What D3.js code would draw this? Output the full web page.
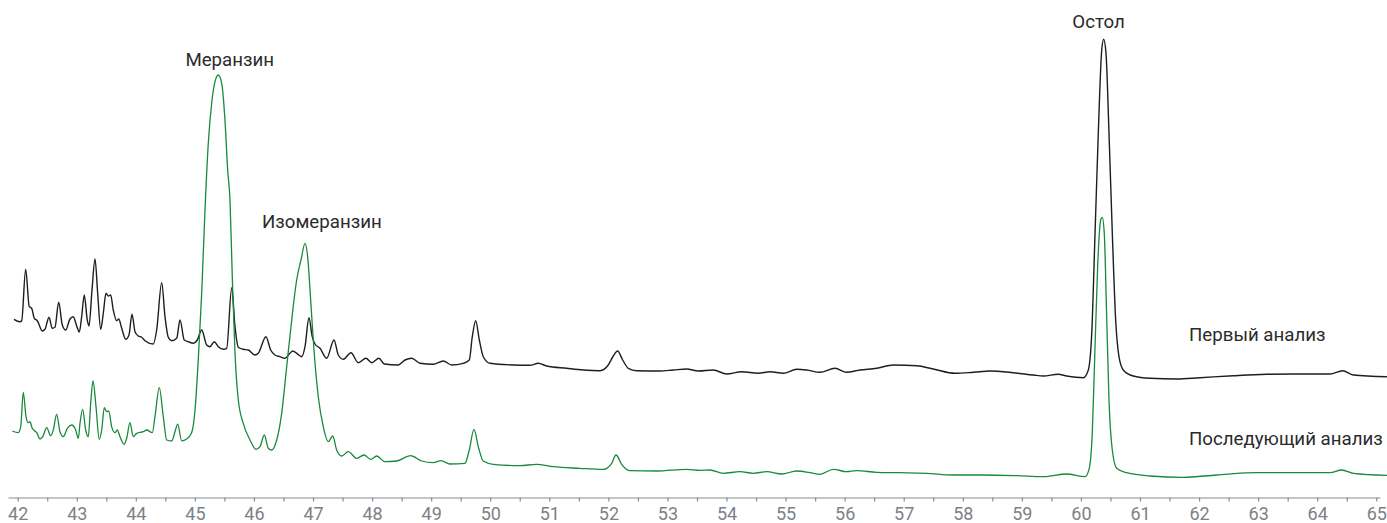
<!DOCTYPE html>
<html>
<head>
<meta charset="utf-8">
<script src="https://cdn.jsdelivr.net/npm/d3@7"></script>
<style>
  html, body { margin: 0; padding: 0; background: #fff; }
  svg { display: block; }
  .axis text { font-family: Roboto, "Noto Sans", sans-serif; font-size: 18px; fill: #7d8186; }
  .axis path, .axis line { stroke: #8a8d91; stroke-width: 1.2; }
  .lbl { font-family: Roboto, "Noto Sans", sans-serif; font-size: 18.7px; fill: #2b2b2b; }
</style>
</head>
<body>
<svg id="chart" width="1387" height="523"></svg>
<script>
// Retention time (min) and detector signal (a.u.) — first analysis (black trace, offset)
const firstTime = [41.937,42.039,42.068,42.135,42.196,42.237,42.281,42.332,42.416,42.462,42.530,42.586,42.631,42.694,42.755,42.813,42.885,42.941,42.999,43.043,43.083,43.127,43.178,43.207,43.258,43.309,43.354,43.405,43.449,43.495,43.534,43.574,43.618,43.676,43.710,43.761,43.828,43.884,43.935,43.986,44.042,44.099,44.155,44.296,44.353,44.438,44.494,44.550,44.607,44.692,44.748,44.820,44.888,44.973,45.040,45.115,45.200,45.256,45.328,45.396,45.481,45.538,45.623,45.679,45.735,45.819,45.904,46.017,46.073,46.203,46.283,46.356,46.440,46.525,46.610,46.655,46.723,46.808,46.864,46.931,46.987,47.033,47.118,47.231,47.355,47.427,47.512,47.642,47.766,47.896,47.993,48.116,48.206,48.443,48.557,48.670,48.811,49.036,49.205,49.347,49.544,49.645,49.696,49.754,49.815,49.882,49.996,50.390,50.673,50.813,50.955,51.294,51.575,51.858,51.998,52.083,52.157,52.242,52.337,52.479,52.874,53.099,53.326,53.522,53.776,54.003,54.257,54.538,54.736,54.961,55.188,55.357,55.582,55.836,56.034,56.260,56.542,56.823,57.219,57.500,57.868,58.178,58.460,58.855,59.193,59.363,59.616,59.759,60.041,60.125,60.183,60.239,60.294,60.352,60.385,60.424,60.475,60.531,60.588,60.644,60.717,60.886,61.168,61.620,62.015,62.579,63.144,63.764,64.216,64.431,64.611,65.181];
const firstSignal = [178.4,176.0,177.0,228.4,191.0,189.4,179.4,177.0,166.7,168.4,180.4,169.4,170.4,195.4,172.7,167.7,178.7,181.0,171.7,165.7,181.0,202.7,177.7,171.7,207.7,238.7,204.4,168.4,184.4,204.4,201.7,202.7,187.7,177.0,178.7,169.4,158.4,162.7,183.4,166.0,161.7,160.4,157.0,153.7,167.7,215.0,181.0,160.4,157.0,159.4,177.7,157.7,156.0,154.4,157.7,167.7,152.7,151.0,156.0,151.0,148.4,149.4,210.0,171.0,150.4,148.4,147.7,142.7,144.4,161.0,147.7,142.7,141.0,139.4,144.4,146.7,144.4,141.0,151.0,180.0,161.0,153.7,149.4,139.4,157.7,142.7,138.4,145.0,135.0,139.4,135.0,139.4,133.7,132.7,137.7,139.4,134.4,133.4,136.7,132.7,134.4,137.7,161.0,177.0,157.7,141.0,134.4,132.7,132.4,134.4,131.7,129.4,127.7,127.0,132.7,141.7,146.7,137.7,129.4,127.0,126.7,127.7,128.7,126.7,127.7,123.7,126.0,124.4,126.0,124.4,128.4,127.7,125.4,129.4,125.4,127.7,129.4,132.7,132.0,128.7,124.4,125.4,126.7,125.0,122.7,121.7,123.4,121.7,120.0,127.7,164.4,264.7,364.7,447.7,458.4,444.7,364.7,264.7,177.7,141.0,127.7,121.7,119.4,118.7,120.0,122.0,123.4,123.7,123.7,127.0,122.7,121.0];

// Subsequent analysis (green trace)
const secondTime = [41.909,42.010,42.051,42.095,42.141,42.179,42.208,42.247,42.322,42.378,42.423,42.491,42.559,42.603,42.660,42.716,42.772,42.840,42.914,42.982,43.026,43.055,43.100,43.151,43.195,43.236,43.275,43.326,43.381,43.422,43.466,43.507,43.541,43.591,43.647,43.686,43.732,43.800,43.845,43.901,43.957,44.015,44.126,44.184,44.279,44.324,44.397,44.465,44.522,44.607,44.663,44.709,44.776,44.861,44.946,45.002,45.057,45.115,45.171,45.227,45.284,45.340,45.396,45.454,45.509,45.555,45.594,45.633,45.679,45.735,45.819,45.933,46.034,46.102,46.175,46.242,46.300,46.385,46.469,46.554,46.639,46.723,46.796,46.864,46.909,46.960,47.016,47.089,47.173,47.258,47.333,47.400,47.485,47.597,47.739,47.862,47.976,48.078,48.218,48.416,48.653,48.839,49.036,49.166,49.318,49.572,49.645,49.725,49.798,49.882,50.051,50.503,50.786,51.067,51.519,51.914,52.056,52.129,52.225,52.366,52.818,53.326,53.551,53.720,53.945,54.228,54.453,54.680,54.934,55.188,55.413,55.582,55.808,56.034,56.203,56.542,56.937,57.389,57.839,58.347,58.912,59.363,59.759,60.069,60.141,60.192,60.237,60.283,60.334,60.361,60.395,60.436,60.475,60.531,60.605,60.774,61.168,61.732,62.297,62.974,63.764,64.216,64.414,64.611,65.181];
const secondSignal = [66.7,65.0,71.0,105.4,81.0,75.0,76.0,69.4,65.0,58.7,61.0,70.0,62.0,67.7,83.4,66.0,61.0,69.4,72.7,67.7,59.4,74.4,88.4,67.7,61.0,94.4,116.7,91.0,58.4,67.7,90.0,86.0,86.7,71.0,65.0,67.7,61.0,53.4,59.4,75.0,61.0,64.4,66.0,67.7,65.0,81.0,110.0,81.0,57.7,56.7,66.0,73.5,56.9,58.7,65.2,87.7,137.7,204.4,287.7,354.4,394.4,416.0,422.7,414.4,377.7,327.7,297.7,221.0,144.4,97.7,74.4,57.7,48.4,51.0,62.7,49.4,47.7,57.7,84.4,131.0,177.7,217.7,237.7,254.4,241.0,197.7,147.7,101.0,71.0,56.0,61.7,47.7,41.7,46.0,39.4,42.7,38.4,41.7,36.0,36.7,42.0,36.7,35.0,37.0,33.7,34.4,47.7,68.4,51.0,36.7,33.4,32.0,33.4,31.0,29.4,28.4,34.4,42.7,33.4,27.0,26.7,28.4,27.4,27.7,24.4,26.0,24.4,26.0,23.7,26.7,25.0,23.4,28.4,26.0,27.0,25.4,25.0,24.4,22.7,22.7,22.0,21.0,23.7,21.0,29.4,64.4,147.7,231.0,277.7,280.4,264.4,181.0,97.7,47.7,29.4,25.0,21.7,20.4,22.7,25.0,25.0,25.0,27.7,24.4,22.4];

const axisTicks = [42,42.5,43,43.5,44,44.5,45,45.5,46,46.5,47,47.5,48,48.5,49,49.5,50,50.5,51,51.5,52,52.5,53,53.5,54,54.5,55,55.5,56,56.5,57,57.5,58,58.5,59,59.5,60,60.5,61,61.5,62,62.5,63,63.5,64,64.5,65];

const peakNames = ["Меранзин", "Изомеранзин", "Остол"];
const peakTimes = [45.59, 47.15, 60.30];
const peakLabelSignal = [438, 276, 476];
const seriesNames = ["Первый анализ", "Последующий анализ"];
const seriesLabelTime = [61.83, 61.83];
const seriesLabelSignal = [163, 59];

const svg = d3.select("#chart");
const x = d3.scaleLinear().domain([41.836, 65.063]).range([8, 1380]);
const y = d3.scaleLinear().domain([0, 500]).range([497.7, -2.3]);

const line = d3.line().x(d => x(d[0])).y(d => y(d[1])).curve(d3.curveMonotoneX);

const first = firstTime.map((t, i) => [t, firstSignal[i]]);
const second = secondTime.map((t, i) => [t, secondSignal[i]]);

svg.append("path").datum(first).attr("d", line)
  .attr("fill", "none").attr("stroke", "#1e1e1e").attr("stroke-width", 1.4).attr("stroke-linejoin", "round");
svg.append("path").datum(second).attr("d", line)
  .attr("fill", "none").attr("stroke", "#178a3c").attr("stroke-width", 1.3).attr("stroke-linejoin", "round");

const axis = d3.axisBottom(x).tickValues(axisTicks).tickSize(4).tickSizeOuter(0).tickPadding(5.5)
  .tickFormat(d => Number.isInteger(d) ? d3.format("d")(d) : "");
svg.append("g").attr("class", "axis").attr("transform", "translate(0,497.5)").call(axis);

svg.selectAll("text.peak").data(peakNames).join("text")
  .attr("class", "lbl peak")
  .attr("x", (d, i) => x(peakTimes[i]))
  .attr("y", (d, i) => y(peakLabelSignal[i]))
  .attr("dy", "0.35em")
  .attr("text-anchor", "middle")
  .text(d => d);

svg.selectAll("text.series").data(seriesNames).join("text")
  .attr("class", "lbl series")
  .attr("x", (d, i) => x(seriesLabelTime[i]))
  .attr("y", (d, i) => y(seriesLabelSignal[i]))
  .attr("dy", "0.35em")
  .attr("text-anchor", "start")
  .text(d => d);
</script>
</body>
</html>
